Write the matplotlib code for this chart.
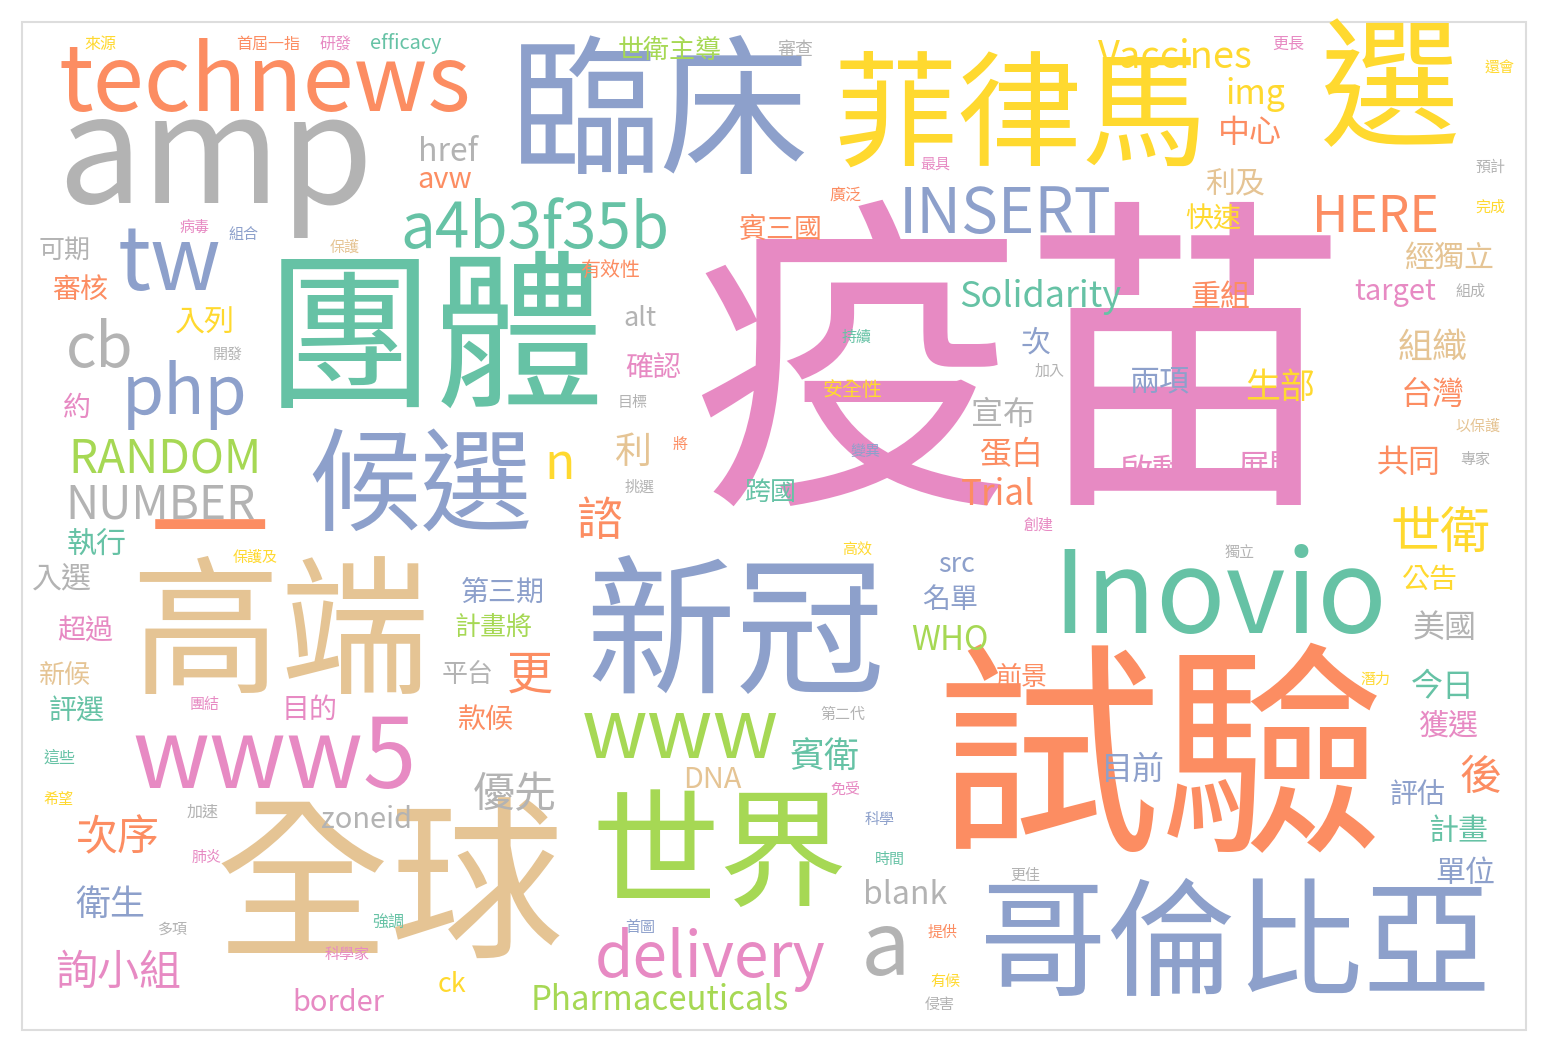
import matplotlib
matplotlib.use('Agg')
import matplotlib.pyplot as plt
from matplotlib.patches import Rectangle

plt.rcParams['font.family'] = ['Noto Sans CJK TC', 'DejaVu Sans']

# Set2 palette
G, O, B, P, L, Y, T, K = ('#66c2a5', '#fc8d62', '#8da0cb', '#e78ac3',
                          '#a6d854', '#ffd92f', '#e5c494', '#b3b3b3')

# word, weight (em height in px), colour
words = [
    ('疫苗', 330, P), ('試驗', 225, O), ('團體', 170, G), ('臨床', 150, B),
    ('菲律馬', 125, Y), ('選', 140, Y), ('amp', 150, K), ('technews', 92, O),
    ('tw', 88, B), ('a4b3f35b', 62, G), ('INSERT', 62, B), ('HERE', 50, O),
    ('Vaccines', 38, Y), ('img', 34, Y), ('href', 32, K), ('avw', 29, O),
    ('cb', 60, K), ('php', 68, B), ('候選', 112, B), ('n', 50, Y),
    ('RANDOM', 46, L), ('NUMBER', 46, K), ('一', 120, O), ('高端', 150, T),
    ('新冠', 150, B), ('Inovio', 115, G), ('www5', 96, P), ('www', 82, L),
    ('全球', 175, T), ('世界', 128, L), ('哥倫比亞', 128, B), ('a', 88, K),
    ('delivery', 62, P), ('Pharmaceuticals', 33, L), ('Solidarity', 36, G),
    ('Trial', 35, O), ('WHO', 33, L), ('DNA', 29, T), ('zoneid', 29, K),
    ('blank', 32, K), ('border', 29, P), ('ck', 27, Y), ('src', 27, B),
    ('target', 29, P), ('alt', 27, K), ('efficacy', 20, G),
    ('世衛主導', 26, L), ('審查', 18, K), ('更長', 16, P), ('還會', 15, Y),
    ('來源', 16, Y), ('首屆一指', 16, O), ('研發', 16, P), ('中心', 32, O),
    ('利及', 30, T), ('快速', 28, Y), ('最具', 15, P), ('廣泛', 16, O),
    ('預計', 15, K), ('完成', 15, Y), ('賓三國', 28, O), ('經獨立', 30, T),
    ('重組', 30, O), ('組成', 15, K), ('可期', 26, K), ('病毒', 15, P),
    ('組合', 15, B), ('保護', 15, T), ('審核', 28, O), ('有效性', 20, O),
    ('入列', 30, Y), ('開發', 15, K), ('持續', 15, G), ('組織', 35, T),
    ('加入', 15, K), ('次', 30, B), ('確認', 28, P), ('兩項', 30, B),
    ('生部', 35, Y), ('安全性', 20, Y), ('台灣', 32, O), ('宣布', 32, K),
    ('目標', 15, K), ('約', 28, P), ('以保護', 15, T), ('利', 37, T),
    ('將', 15, O), ('蛋白', 32, O), ('變異', 15, B), ('專家', 15, K),
    ('共同', 32, O), ('啟動', 34, P), ('展開', 32, P), ('挑選', 15, K),
    ('跨國', 26, G), ('諮', 46, O), ('創建', 15, P), ('執行', 30, G),
    ('保護及', 15, Y), ('世衛', 50, Y), ('高效', 15, Y), ('獨立', 15, K),
    ('入選', 30, K), ('公告', 28, Y), ('第三期', 28, B), ('名單', 28, B),
    ('計畫將', 26, L), ('超過', 28, P), ('美國', 32, K), ('更', 46, O),
    ('平台', 26, K), ('新候', 26, T), ('前景', 26, O), ('潛力', 15, Y),
    ('今日', 32, G), ('評選', 28, G), ('團結', 15, P), ('目的', 28, P),
    ('款候', 28, O), ('第二代', 15, K), ('獲選', 30, P), ('這些', 16, G),
    ('賓衛', 35, G), ('後', 42, O), ('優先', 42, K), ('目前', 32, B),
    ('加速', 16, K), ('希望', 15, Y), ('免受', 15, P), ('評估', 28, B),
    ('次序', 42, O), ('科學', 15, B), ('計畫', 30, G), ('肺炎', 15, P),
    ('時間', 15, G), ('單位', 30, B), ('更佳', 15, K), ('衛生', 35, B),
    ('強調', 16, G), ('多項', 15, K), ('首圖', 15, B), ('提供', 15, O),
    ('科學家', 15, P), ('詢小組', 42, P), ('有候', 15, Y), ('侵害', 15, K),
]

# layout: word centres in pixels
layout = [
    (1020, 385), (1160, 770), (435, 345), (660, 120), (1020, 120), (1390, 95),
    (215, 160), (265, 85), (170, 265), (535, 230), (1005, 215), (1375, 218),
    (1175, 58), (1255, 95), (448, 152), (445, 180), (100, 350), (185, 395),
    (420, 490), (560, 465), (165, 460), (160, 505), (210, 537), (280, 640),
    (735, 640), (1220, 600), (275, 760), (680, 735), (390, 895), (720, 860),
    (1235, 950), (885, 950), (710, 960), (660, 1000), (1040, 297), (998, 495),
    (950, 640), (712, 780), (367, 820), (905, 895), (338, 1003), (452, 985),
    (957, 565), (1395, 292), (640, 318), (406, 44),
    (670, 50), (795, 50), (1288, 44), (1500, 68), (100, 45), (268, 44),
    (335, 44), (1250, 133), (1235, 185), (1213, 220), (935, 165), (845, 195),
    (1490, 168), (1490, 208), (780, 230), (1450, 258), (1220, 298),
    (1470, 292), (65, 250), (195, 228), (243, 235), (345, 248), (80, 290),
    (610, 270), (205, 323), (228, 355), (857, 338), (1433, 348), (1050, 372),
    (1035, 343), (653, 368), (1160, 383), (1280, 388), (853, 390),
    (1433, 395), (1003, 415), (633, 403), (77, 408), (1478, 427), (633, 452),
    (680, 445), (1012, 455), (865, 452), (1475, 460), (1408, 463),
    (1153, 473), (1270, 468), (640, 488), (770, 492), (600, 522),
    (1038, 525), (97, 545), (255, 558), (1440, 535), (857, 550), (1240, 553),
    (62, 580), (1430, 580), (503, 593), (950, 600), (493, 627), (85, 632),
    (1445, 628), (530, 675), (468, 675), (65, 675), (1022, 677), (1375, 680),
    (1443, 687), (77, 712), (205, 705), (310, 710), (485, 720), (843, 715),
    (1448, 726), (60, 758), (825, 758), (1480, 778), (515, 795), (1133, 770),
    (203, 812), (58, 800), (845, 790), (1418, 795), (118, 838), (880, 820),
    (1458, 832), (207, 858), (890, 860), (1465, 873), (1025, 876),
    (110, 905), (388, 923), (172, 930), (640, 928), (943, 933), (347, 955),
    (118, 973), (945, 983), (940, 1005),
]

W, H, DPI = 1548, 1052, 100
fig = plt.figure(figsize=(W / DPI, H / DPI), dpi=DPI)
ax = fig.add_axes([0, 0, 1, 1])
ax.set_xlim(0, W)
ax.set_ylim(H, 0)
ax.axis('off')

ax.add_patch(Rectangle((22, 22), 1504, 1008, fill=False, edgecolor='#dddddd', lw=1.5))

for (w, size, col), (x, y) in zip(words, layout):
    ax.text(x, y, w, fontsize=size * 72 / DPI, color=col, ha='center', va='center')

fig.savefig('out.png', dpi=DPI, facecolor='white')
